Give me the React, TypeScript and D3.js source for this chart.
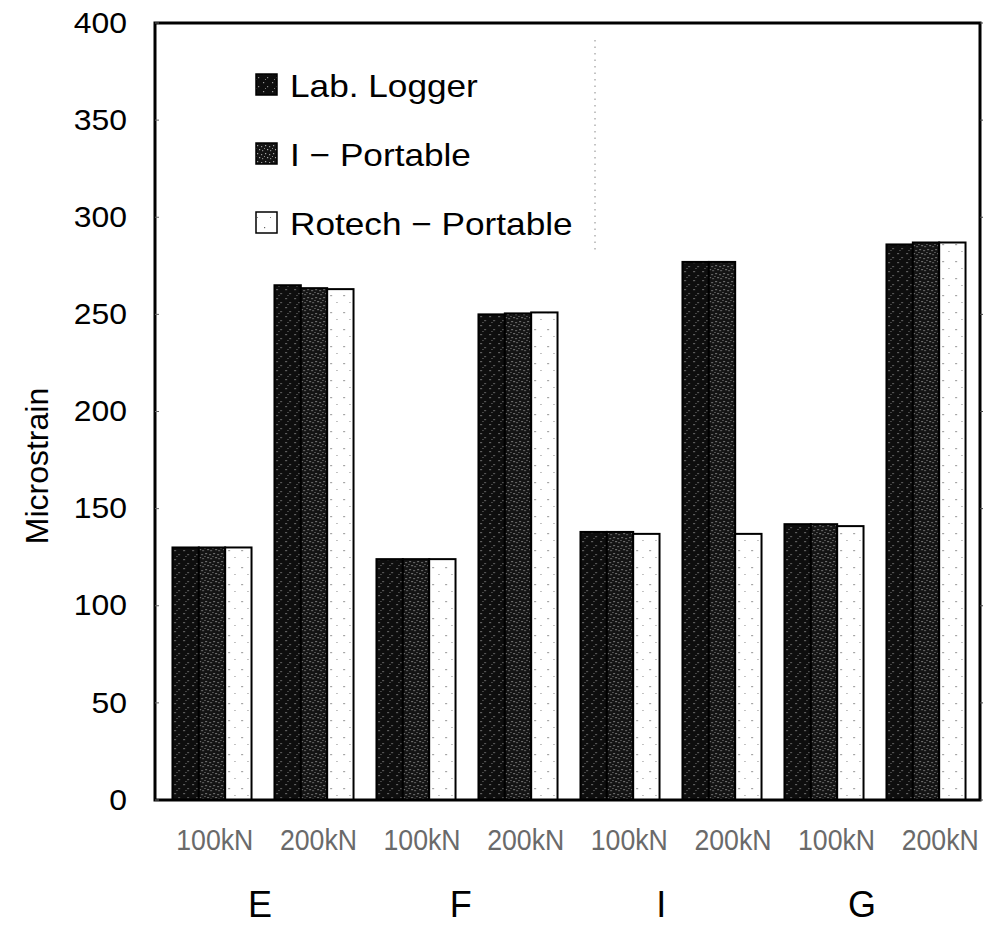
import React from "react";
import * as d3 from "d3";

const categories = ["E-100kN", "E-200kN", "F-100kN", "F-200kN", "I-100kN", "I-200kN", "G-100kN", "G-200kN"];
const catLabels = ["100kN", "200kN", "100kN", "200kN", "100kN", "200kN", "100kN", "200kN"];
const groups = ["E", "F", "I", "G"];
const series = ["Lab. Logger", "I − Portable", "Rotech − Portable"];
const labLogger = [130, 265, 124, 250, 138, 277, 142, 286];
const iPortable = [130, 263.5, 124, 250.5, 138, 277, 142, 287];
const rotechPortable = [130, 263, 124, 251, 137, 137, 141, 287];
const yTicks = [0, 50, 100, 150, 200, 250, 300, 350, 400];

const seriesValues = [labLogger, iPortable, rotechPortable];
const fills = ["url(#patLab)", "url(#patI)", "url(#patRot)"];

export default function App() {
  const x = d3.scaleBand<string>().domain(categories).range([161, 977]).paddingInner(0.225).paddingOuter(0.1125);
  const xs = d3.scaleBand<string>().domain(series).range([0, x.bandwidth()]);
  const y = d3.scaleLinear().domain([0, 400]).range([800, 23]);
  const xLabel = d3.scaleBand<string>().domain(categories).range([163, 992]);
  const xGroup = d3.scalePoint<string>().domain(groups).range([260, 862]);

  const left = 155, right = 980;
  const font = "'Liberation Sans', Arial, sans-serif";

  return (
    <svg width={997} height={928} style={{ position: "absolute", left: 0, top: 0, background: "#fff" }} fontFamily={font}>
      <defs>
        <pattern id="patLab" width={9} height={9} patternUnits="userSpaceOnUse">
          <rect width={9} height={9} fill="#0e0e0e" />
          <rect x={2} y={1} width={1.2} height={1.2} fill="#9a9a9a" />
          <rect x={6} y={5} width={1.2} height={1.2} fill="#8a8a8a" />
          <rect x={4} y={7} width={1} height={1} fill="#777" />
        </pattern>
        <pattern id="patI" width={8} height={8} patternUnits="userSpaceOnUse">
          <rect width={8} height={8} fill="#141414" />
          <rect x={1} y={1} width={1.2} height={1.2} fill="#a8a8a8" />
          <rect x={5} y={2} width={1.2} height={1.2} fill="#999" />
          <rect x={3} y={5} width={1.2} height={1.2} fill="#aaa" />
          <rect x={6} y={6} width={1.2} height={1.2} fill="#888" />
          <rect x={0} y={4} width={1} height={1} fill="#8a8a8a" />
        </pattern>
        <pattern id="patRot" width={13} height={17} patternUnits="userSpaceOnUse">
          <rect width={13} height={17} fill="#fff" />
          <rect x={4} y={6} width={1.2} height={1.2} fill="#666" />
          <rect x={10} y={13} width={1} height={1} fill="#888" />
        </pattern>
      </defs>

      {/* bars */}
      {categories.map((c, i) => (
        <g key={c} transform={`translate(${x(c)},0)`}>
          {series.map((s, j) => {
            const v = seriesValues[j][i];
            return (
              <rect
                key={s}
                x={xs(s)}
                y={y(v)}
                width={xs.bandwidth()}
                height={y(0) - y(v)}
                fill={fills[j]}
                stroke="#000"
                strokeWidth={2}
              />
            );
          })}
        </g>
      ))}

      {/* frame */}
      <rect x={left} y={y(400)} width={right - left} height={y(0) - y(400)} fill="none" stroke="#000" strokeWidth={3} />

      {/* y ticks */}
      {yTicks.map((t) => (
        <g key={t}>
          <line x1={left} x2={left + 4} y1={y(t)} y2={y(t)} stroke="#666" strokeWidth={1} />
          <line x1={right} x2={right + 3} y1={y(t)} y2={y(t)} stroke="#444" strokeWidth={1} />
          <text
            transform={`translate(127,${y(t) + 2}) scale(1.1,1)`}
            textAnchor="end"
            dominantBaseline="middle"
            fontSize={29}
            fill="#000"
          >
            {t}
          </text>
        </g>
      ))}

      {/* y label */}
      <text transform="translate(48,466) rotate(-90)" textAnchor="middle" fontSize={32} fill="#000">
        Microstrain
      </text>

      {/* x category labels */}
      {categories.map((c, i) => (
        <text
          key={c}
          transform={`translate(${(xLabel(c) as number) + xLabel.bandwidth() / 2},850) scale(0.92,1)`}
          textAnchor="middle"
          fontSize={29}
          fill="#6a6a6a"
        >
          {catLabels[i]}
        </text>
      ))}

      {/* group labels */}
      {groups.map((g) => (
        <text key={g} x={xGroup(g)} y={917} textAnchor="middle" fontSize={36} fill="#000">
          {g}
        </text>
      ))}

      {/* legend */}
      <line x1={595} x2={595} y1={40} y2={250} stroke="#888" strokeWidth={1} strokeDasharray="1.5,5" />
      {series.map((s, j) => {
        const cy = 85 + j * 69;
        return (
          <g key={s}>
            <rect x={256} y={cy - 11} width={21} height={21} fill={fills[j]} stroke="#000" strokeWidth={1.5} />
            <text transform={`translate(290,${cy + 12}) scale(1.1,1)`} fontSize={32} fill="#000">
              {s}
            </text>
          </g>
        );
      })}
    </svg>
  );
}
